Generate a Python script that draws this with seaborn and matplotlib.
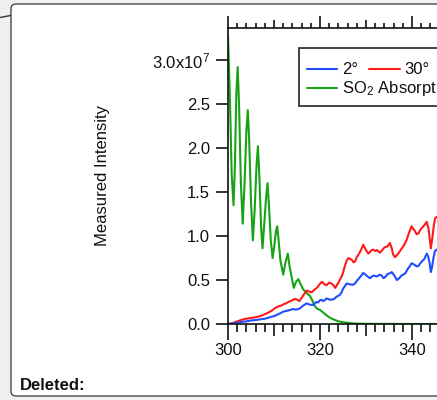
import numpy as np
import pandas as pd
import matplotlib
matplotlib.use("Agg")
import matplotlib.pyplot as plt
from matplotlib.ticker import FixedLocator, FixedFormatter, MultipleLocator
from matplotlib.patches import FancyBboxPatch, Rectangle
from matplotlib.lines import Line2D
import seaborn as sns

# ---------------- data ----------------
so2_wl = [300.0, 300.4, 300.8, 301.2, 301.5, 301.8, 302.1, 302.4, 302.8, 303.2,
          303.6, 304.0, 304.3, 304.6, 305.0, 305.4, 305.8, 306.2, 306.5, 306.8,
          307.2, 307.5, 307.9, 308.3, 308.6, 308.9, 309.3, 309.7, 310.1, 310.4,
          310.7, 311.0, 311.4, 312.0, 312.5, 313.0, 313.4, 314.3, 314.8, 315.3,
          315.8, 316.4, 317.1, 317.8, 318.4, 318.9, 319.5, 320.0, 320.7, 321.4,
          322.2, 322.9, 324.0, 325.0, 325.8, 327.0, 328.0, 330.0, 335.0, 340.0,
          345.0, 350.0]
so2_val = [3.28, 2.60, 1.70, 1.35, 1.80, 2.60, 2.92, 2.50, 1.60, 1.14,
           1.60, 2.20, 2.43, 2.10, 1.40, 0.95, 1.30, 1.80, 2.02, 1.70,
           1.10, 0.86, 1.15, 1.45, 1.60, 1.35, 0.95, 0.75, 0.90, 1.05,
           1.11, 0.95, 0.72, 0.56, 0.70, 0.80, 0.65, 0.41, 0.48, 0.51,
           0.45, 0.39, 0.35, 0.32, 0.26, 0.20, 0.17, 0.16, 0.13, 0.10,
           0.07, 0.053, 0.03, 0.02, 0.015, 0.008, 0.004, 0.002, 0.001, 0.0,
           0.0, 0.0]

deg2_wl = [300.0, 301.0, 302.0, 303.0, 304.0, 305.0, 306.0, 307.0, 308.0, 309.0,
           309.5, 310.0, 310.5, 311.0, 311.3, 312.0, 312.4, 312.8, 313.5, 314.2,
           314.6, 315.0, 315.7, 316.1, 316.4, 317.1, 317.5, 317.8, 318.5, 318.9,
           319.2, 319.6, 320.0, 320.4, 320.7, 321.0, 321.4, 321.8, 322.2, 322.9,
           323.3, 323.6, 324.3, 324.7, 325.0, 325.4, 325.8, 326.2, 326.6, 327.1,
           327.6, 328.0, 328.5, 328.9, 329.4, 329.8, 330.1, 330.5, 330.9, 331.3,
           331.6, 332.0, 332.3, 332.7, 333.0, 333.4, 333.8, 334.3, 334.7, 335.2,
           335.6, 336.1, 336.4, 336.7, 337.0, 337.4, 337.8, 338.1, 338.6, 339.0,
           339.5, 339.9, 340.3, 340.6, 341.0, 341.4, 341.8, 342.3, 342.7, 343.2,
           343.5, 343.8, 344.1, 344.4, 344.7, 345.0, 345.5]
deg2_val = [0.0, 0.005, 0.012, 0.025, 0.03, 0.04, 0.045, 0.053, 0.06, 0.075,
            0.083, 0.09, 0.10, 0.115, 0.12, 0.14, 0.145, 0.15, 0.16, 0.17,
            0.165, 0.165, 0.18, 0.20, 0.21, 0.235, 0.225, 0.22, 0.216, 0.235,
            0.25, 0.245, 0.27, 0.275, 0.26, 0.27, 0.29, 0.285, 0.275, 0.28,
            0.295, 0.31, 0.33, 0.36, 0.40, 0.43, 0.46, 0.455, 0.45, 0.445,
            0.46, 0.49, 0.52, 0.545, 0.58, 0.565, 0.55, 0.535, 0.52, 0.54,
            0.55, 0.545, 0.54, 0.55, 0.56, 0.55, 0.52, 0.54, 0.57, 0.575,
            0.59, 0.555, 0.53, 0.50, 0.51, 0.53, 0.555, 0.56, 0.58, 0.62,
            0.655, 0.69, 0.68, 0.67, 0.655, 0.66, 0.69, 0.72, 0.74, 0.80,
            0.77, 0.70, 0.59, 0.66, 0.76, 0.83, 0.85]

deg30_wl = [300.0, 301.0, 302.0, 303.3, 304.5, 305.9, 307.0, 308.4, 309.5, 310.2,
            310.9, 311.6, 312.3, 312.7, 313.1, 314.0, 314.5, 314.9, 315.5, 316.3,
            316.7, 317.1, 317.6, 318.2, 318.8, 319.3, 319.9, 320.4, 321.0, 321.4,
            322.0, 322.5, 322.9, 323.3, 324.0, 324.7, 325.0, 325.4, 325.8, 326.2,
            326.5, 326.9, 327.3, 327.6, 328.0, 328.5, 328.9, 329.4, 329.7, 330.0,
            330.5, 330.9, 331.2, 331.6, 332.0, 332.4, 333.0, 333.4, 334.0, 334.6,
            335.2, 335.6, 335.9, 336.3, 336.7, 337.0, 337.4, 337.8, 338.3, 338.8,
            339.3, 339.9, 340.3, 340.6, 341.0, 341.4, 341.8, 342.3, 342.8, 343.2,
            343.6, 343.9, 344.1, 344.4, 344.7, 345.0, 345.5]
deg30_val = [0.0, 0.01, 0.03, 0.053, 0.065, 0.076, 0.09, 0.12, 0.15, 0.18,
             0.20, 0.21, 0.23, 0.235, 0.25, 0.27, 0.285, 0.28, 0.26, 0.32,
             0.35, 0.38, 0.37, 0.36, 0.39, 0.41, 0.45, 0.48, 0.45, 0.44,
             0.47, 0.46, 0.44, 0.41, 0.47, 0.54, 0.58, 0.66, 0.72, 0.75,
             0.74, 0.73, 0.70, 0.71, 0.76, 0.80, 0.84, 0.90, 0.87, 0.84,
             0.80, 0.82, 0.84, 0.845, 0.83, 0.84, 0.81, 0.83, 0.87, 0.88,
             0.92, 0.86, 0.79, 0.76, 0.78, 0.80, 0.83, 0.86, 0.90, 0.95,
             1.03, 1.11, 1.08, 1.06, 1.02, 1.03, 1.07, 1.10, 1.13, 1.16,
             1.08, 0.95, 0.86, 0.97, 1.10, 1.20, 1.22]

scale = 1e7
ytick_vals = [0.0, 0.5, 1.0, 1.5, 2.0, 2.5, 3.0]
ytick_labels = ["0.0", "0.5", "1.0", "1.5", "2.0", "2.5", "3.0x10$^{7}$"]
xtick_vals = [300, 310, 320, 330, 340, 350]
xtick_labels = ["300", "", "320", "", "340", ""]
legend_labels = ["2°", "30°", "SO$_{2}$ Absorption"]
ylabel = "Measured Intensity"
note = "Deleted:"

# ---------------- styling ----------------
sns.set_theme(style="white")
plt.rcParams["font.family"] = ["Liberation Sans", "DejaVu Sans"]
plt.rcParams["mathtext.fontset"] = "custom"
plt.rcParams["mathtext.rm"] = "Liberation Sans"
plt.rcParams["mathtext.it"] = "Liberation Sans:italic"
plt.rcParams["mathtext.bf"] = "Liberation Sans:bold"
plt.rcParams["mathtext.default"] = "rm"

W, H = 437, 400
DPI = 100
fig = plt.figure(figsize=(W / DPI, H / DPI), dpi=DPI, facecolor="#f0f0f0")

def fx(x):
    return x / W

def fy(y):
    return 1 - y / H

PT = 72.0 / DPI  # points per pixel

# document comment box
box = FancyBboxPatch((fx(11), fy(396)), fx(480), (396 - 4) / H,
                     boxstyle="round,pad=0,rounding_size=0.012",
                     transform=fig.transFigure, facecolor="white",
                     edgecolor="#4a4a4a", linewidth=1.0, zorder=0)
fig.add_artist(box)
fig.add_artist(Line2D([fx(0), fx(10.5)], [fy(17.5), fy(15.5)],
                      transform=fig.transFigure, color="#333333", lw=1.0))
fig.text(fx(20), fy(390), note, fontsize=12, fontweight="bold",
         ha="left", va="baseline", color="#111111")

# axes (extends past the right edge, as in the crop)
x0_px, x_per_unit = 228, 4.6
y0_px, y_per_unit = 324, 88.0
xmin, xmax = 300, 360
ytop_px = 28
ax = fig.add_axes([fx(x0_px), fy(y0_px),
                   (xmax - xmin) * x_per_unit / W, (y0_px - ytop_px) / H])
ax.set_facecolor("none")

c_blue, c_red, c_green = "#1f4dff", "#ff1a1a", "#16a316"
df_so2 = pd.DataFrame({"wl": so2_wl, "val": np.array(so2_val) * scale})
df_2 = pd.DataFrame({"wl": deg2_wl, "val": np.array(deg2_val) * scale})
df_30 = pd.DataFrame({"wl": deg30_wl, "val": np.array(deg30_val) * scale})

lw = 1.5
sns.lineplot(data=df_so2, x="wl", y="val", ax=ax, color=c_green, lw=lw, estimator=None)
sns.lineplot(data=df_30, x="wl", y="val", ax=ax, color=c_red, lw=lw, estimator=None)
sns.lineplot(data=df_2, x="wl", y="val", ax=ax, color=c_blue, lw=lw, estimator=None)

ax.set_xlim(xmin, xmax)
ax.set_ylim(0, (y0_px - ytop_px) / y_per_unit * scale)
ax.set_xlabel("")
ax.set_ylabel("")

for s in ["left", "bottom", "top"]:
    ax.spines[s].set_visible(True)
    ax.spines[s].set_color("#111111")
    ax.spines[s].set_linewidth(1.2)
ax.spines["right"].set_visible(False)

ax.yaxis.set_major_locator(FixedLocator([v * scale for v in ytick_vals]))
ax.yaxis.set_major_formatter(FixedFormatter(ytick_labels))
ax.tick_params(axis="y", which="major", direction="out", length=12 * PT,
               width=1.2, color="#111111", labelsize=12, pad=6 * PT,
               left=True, right=False, labelcolor="#111111")

ax.xaxis.set_major_locator(FixedLocator(xtick_vals))
ax.xaxis.set_major_formatter(FixedFormatter(xtick_labels))
ax.xaxis.set_minor_locator(MultipleLocator(2))
ax.tick_params(axis="x", which="both", direction="out", width=1.2,
               color="#111111", top=True, bottom=True, labeltop=False,
               labelbottom=True, labelsize=12, labelcolor="#111111")
ax.tick_params(axis="x", which="minor", length=8 * PT)
ax.tick_params(axis="x", which="major", length=16 * PT, pad=3 * PT)

fig.canvas.draw()
for t, v in zip(ax.xaxis.get_major_ticks(), ax.xaxis.get_majorticklocs()):
    if int(round(v)) % 20 == 0:
        t.tick1line.set_markersize(16 * PT)
        t.tick2line.set_markersize(12 * PT)
    else:
        t.tick1line.set_markersize(12 * PT)
        t.tick2line.set_markersize(8 * PT)
for t in ax.xaxis.get_minor_ticks():
    t.tick1line.set_markersize(8 * PT)
    t.tick2line.set_markersize(5 * PT)

# y label
fig.text(fx(102.5), fy(176), ylabel, rotation=90, ha="center", va="center",
         fontsize=12, color="#111111")

# legend box (drawn by hand to match the two-row layout)
fig.add_artist(Rectangle((fx(299), fy(106)), fx(200), (106 - 48) / H,
                         transform=fig.transFigure, facecolor="white",
                         edgecolor="#222222", linewidth=1.2, zorder=3))
rows = [(c_blue, 307, 337, 69, legend_labels[0], 342),
        (c_red, 369, 400, 69, legend_labels[1], 404),
        (c_green, 307, 337, 88, legend_labels[2], 342)]
for col, xa, xb, yy, lab, xt in rows:
    fig.add_artist(Line2D([fx(xa), fx(xb)], [fy(yy), fy(yy)],
                          transform=fig.transFigure, color=col, lw=lw, zorder=4))
    fig.text(fx(xt), fy(yy), lab, ha="left", va="center", fontsize=12,
             color="#111111", zorder=5)

fig.savefig("out.png", dpi=DPI, facecolor=fig.get_facecolor())
